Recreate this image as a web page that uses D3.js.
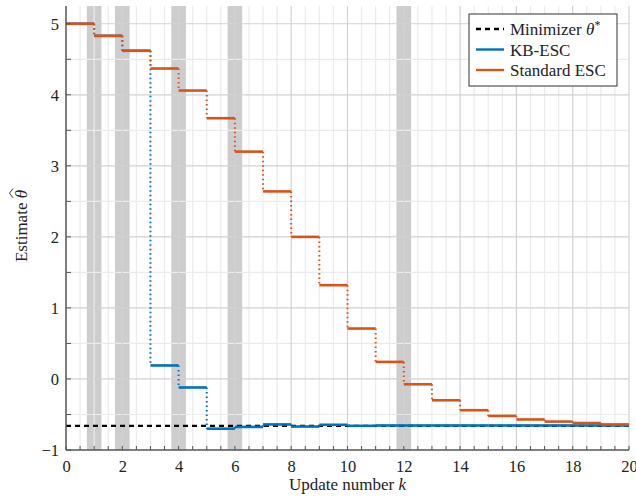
<!DOCTYPE html>
<html>
<head>
<meta charset="utf-8">
<script src="https://cdn.jsdelivr.net/npm/d3@7"></script>
<style>
  body { margin: 0; background: #fff; }
  text { font-family: "Liberation Serif", "DejaVu Serif", serif; fill: #222; }
</style>
</head>
<body>
<div class="chart"></div>
<script>
// update numbers k (step edges)
const updateK = [0, 1, 2, 3, 4, 5, 6, 7, 8, 9, 10, 11, 12, 13, 14, 15, 16, 17, 18, 19, 20];

// estimate held over [k, k+1)
const standardEsc = [5.0, 4.83, 4.62, 4.37, 4.06, 3.67, 3.20, 2.64, 2.00, 1.32,
                     0.71, 0.24, -0.075, -0.30, -0.44, -0.52, -0.57, -0.60, -0.62, -0.64];
const kbEsc = [5.0, 4.83, 4.62, 0.19, -0.12, -0.70, -0.675, -0.64, -0.67, -0.645,
               -0.66, -0.655, -0.655, -0.655, -0.655, -0.655, -0.655, -0.655, -0.655, -0.655];
const minimizer = -0.66;

// shaded update instants
const bandCenters = [1, 2, 4, 6, 12];
const bandHalf = 0.26;

const xTicks = [0, 2, 4, 6, 8, 10, 12, 14, 16, 18, 20];
const yTicks = [-1, 0, 1, 2, 3, 4, 5];

const outerWidth = 636;
const outerHeight = 499;
const margin = {top: 6, left: 66, bottom: 49, right: 7};
const width = outerWidth - margin.left - margin.right;
const height = outerHeight - margin.top - margin.bottom;
const serif = "Liberation Serif, DejaVu Serif, serif";

const svg = d3.select(".chart")
    .append("svg")
    .attr("width", outerWidth)
    .attr("height", outerHeight)
    .append("g")
    .attr("transform", `translate(${margin.left}, ${margin.top})`);

const xScale = d3.scaleLinear().domain([0, 20]).range([0, width]);
const yScale = d3.scaleLinear().domain([-1, 5.25]).range([height, 0]);

// gray bands
svg.selectAll(".band")
    .data(bandCenters)
    .join("rect")
    .attr("class", "band")
    .attr("x", d => xScale(d - bandHalf))
    .attr("width", d => xScale(d + bandHalf) - xScale(d - bandHalf))
    .attr("y", 0)
    .attr("height", height)
    .attr("fill", "#cdcdcd");

// grid: minor every 0.5, major on ticks
const xMinor = d3.range(0.5, 20, 0.5).filter(v => !xTicks.includes(v));
const yMinor = d3.range(-0.5, 5.25, 0.5).filter(v => !yTicks.includes(v));

svg.append("g").selectAll("line")
    .data(xMinor)
    .join("line")
    .attr("x1", d => xScale(d)).attr("x2", d => xScale(d))
    .attr("y1", 0).attr("y2", height)
    .attr("stroke", "#ebebeb").attr("stroke-width", 1.2);

svg.append("g").selectAll("line")
    .data(yMinor)
    .join("line")
    .attr("y1", d => yScale(d)).attr("y2", d => yScale(d))
    .attr("x1", 0).attr("x2", width)
    .attr("stroke", "#ebebeb").attr("stroke-width", 1.2);

svg.append("g").selectAll("line")
    .data(xTicks.slice(1))
    .join("line")
    .attr("x1", d => xScale(d)).attr("x2", d => xScale(d))
    .attr("y1", 0).attr("y2", height)
    .attr("stroke", "#d2d2d2").attr("stroke-width", 1.2);

svg.append("g").selectAll("line")
    .data(yTicks.slice(1))
    .join("line")
    .attr("y1", d => yScale(d)).attr("y2", d => yScale(d))
    .attr("x1", 0).attr("x2", width)
    .attr("stroke", "#d2d2d2").attr("stroke-width", 1.2);

// step series: solid holds, dotted jumps
function drawSteps(values, color) {
    const g = svg.append("g");
    const holds = values.map((v, i) => [[updateK[i], v], [updateK[i + 1], v]]);
    const jumps = values.slice(1).map((v, i) => [[updateK[i + 1], values[i]], [updateK[i + 1], v]]);
    const line = d3.line().x(d => xScale(d[0])).y(d => yScale(d[1]));
    g.selectAll(".jump")
        .data(jumps)
        .join("path")
        .attr("d", line)
        .attr("fill", "none")
        .attr("stroke", color)
        .attr("stroke-width", 2)
        .attr("stroke-dasharray", "1.5,3");
    g.selectAll(".hold")
        .data(holds)
        .join("path")
        .attr("d", line)
        .attr("fill", "none")
        .attr("stroke", color)
        .attr("stroke-width", 2.6);
}

svg.append("line")
    .attr("x1", 0).attr("x2", width)
    .attr("y1", yScale(minimizer)).attr("y2", yScale(minimizer))
    .attr("stroke", "#000")
    .attr("stroke-width", 2.4)
    .attr("stroke-dasharray", "5,4");

drawSteps(kbEsc, "#0072BD");
drawSteps(standardEsc, "#D95319");

// axes
const xAxis = d3.axisBottom(xScale).tickValues(xTicks).tickSize(0).tickPadding(10).tickFormat(d3.format("d"));
const yAxis = d3.axisLeft(yScale).tickValues(yTicks).tickSize(0).tickPadding(7)
    .tickFormat(d => d < 0 ? "\u2212" + Math.abs(d) : d);

const gx = svg.append("g")
    .attr("transform", `translate(0, ${height})`)
    .call(xAxis)
    .attr("font-family", serif)
    .attr("font-size", 16.5);
gx.select(".domain").remove();
gx.selectAll("text").attr("fill", "#222");

const gy = svg.append("g").call(yAxis)
    .attr("font-family", serif)
    .attr("font-size", 16.5);
gy.select(".domain").remove();
gy.selectAll("text").attr("fill", "#222");

// inward ticks
svg.append("g").selectAll("line")
    .data(d3.range(0, 20.01, 0.5))
    .join("line")
    .attr("x1", d => xScale(d)).attr("x2", d => xScale(d))
    .attr("y1", height).attr("y2", height - 4)
    .attr("stroke", "#555").attr("stroke-width", 1);
svg.append("g").selectAll("line")
    .data(d3.range(-1, 5.01, 0.5))
    .join("line")
    .attr("y1", d => yScale(d)).attr("y2", d => yScale(d))
    .attr("x1", 0).attr("x2", 5)
    .attr("stroke", "#555").attr("stroke-width", 1);

svg.append("line")
    .attr("x1", 0).attr("x2", 0).attr("y1", 0).attr("y2", height)
    .attr("stroke", "#555").attr("stroke-width", 1.5);
svg.append("line")
    .attr("x1", 0).attr("x2", width).attr("y1", height).attr("y2", height)
    .attr("stroke", "#555").attr("stroke-width", 1.5);

// axis titles
const xt = svg.append("text")
    .attr("x", width / 2)
    .attr("y", height + 40)
    .attr("text-anchor", "middle")
    .attr("font-size", 17);
xt.append("tspan").text("Update number ");
xt.append("tspan").attr("font-style", "italic").text("k");

const yg = svg.append("g")
    .attr("transform", `translate(${27 - margin.left}, ${226 - margin.top}) rotate(-90)`);
const yt = yg.append("text")
    .attr("text-anchor", "middle")
    .attr("font-size", 17);
yt.append("tspan").text("Estimate ");
const theta = yt.append("tspan").attr("font-style", "italic").text("\u03B8");
// wide hat over theta
{
    const total = yt.node().getComputedTextLength();
    const tw = theta.node().getComputedTextLength();
    const x1 = total / 2 - tw, x2 = total / 2;
    yg.append("path")
        .attr("d", `M${x1 + 0.5},-14 L${(x1 + x2) / 2 + 1},-17.5 L${x2 + 1.5},-14`)
        .attr("fill", "none")
        .attr("stroke", "#222")
        .attr("stroke-width", 0.9);
}

// legend
const legendItems = [
    {label: "Minimizer ", sym: "\u03B8", sup: "*", color: "#000", dash: "5,4"},
    {label: "KB-ESC", color: "#0072BD", dash: null},
    {label: "Standard ESC", color: "#D95319", dash: null}
];
const legend = svg.append("g").attr("transform", `translate(${469 - margin.left}, ${14 - margin.top})`);
legend.append("rect")
    .attr("width", 148).attr("height", 72)
    .attr("fill", "#fff").attr("stroke", "#333").attr("stroke-width", 1);
legendItems.forEach((d, i) => {
    const y = 15 + i * 20.5;
    legend.append("line")
        .attr("x1", 7).attr("x2", 35).attr("y1", y).attr("y2", y)
        .attr("stroke", d.color).attr("stroke-width", 2.4)
        .attr("stroke-dasharray", d.dash);
    const t = legend.append("text").attr("x", 41).attr("y", y + 6).attr("font-size", 17);
    t.append("tspan").text(d.label);
    if (d.sym) {
        t.append("tspan").attr("font-style", "italic").text(d.sym);
        t.append("tspan").attr("font-size", 12).attr("dy", -6).text(d.sup);
    }
});
</script>
</body>
</html>
